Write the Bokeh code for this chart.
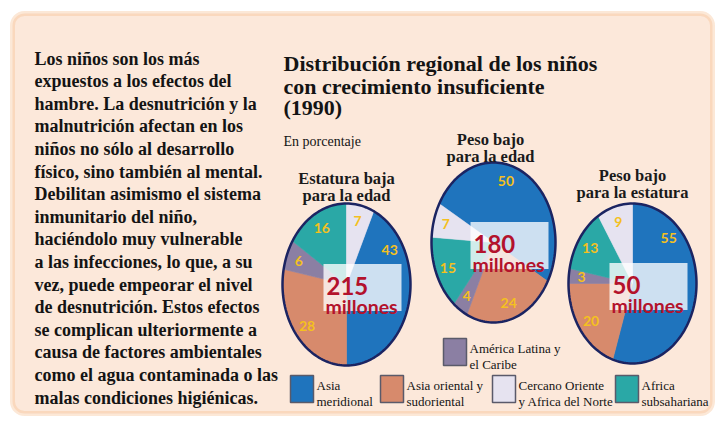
import math
import numpy as np
from bokeh.plotting import figure
from bokeh.models import Range1d, BoxAnnotation
from bokeh.core.properties import value
from bokeh.embed import file_html
from bokeh.resources import INLINE

# ---------------- data ----------------
pie_titles = [["Estatura baja", "para la edad"],
              ["Peso bajo", "para la edad"],
              ["Peso bajo", "para la estatura"]]
pie_totals = ["215", "180", "50"]
total_unit = "millones"

# shares (%) per region, one value per pie
asia_meridional = [43, 50, 55]
asia_oriental = [28, 24, 20]
america_latina = [6, 4, 3]
africa_subsahariana = [16, 15, 13]
cercano_oriente = [7, 7, 9]

title_lines = ["Distribución regional de los niños",
               "con crecimiento insuficiente",
               "(1990)"]
subtitle = "En porcentaje"

paragraph = [
    "Los niños son los más",
    "expuestos a los efectos del",
    "hambre. La desnutrición y la",
    "malnutrición afectan en los",
    "niños no sólo al desarrollo",
    "físico, sino también al mental.",
    "Debilitan asimismo el sistema",
    "inmunitario del niño,",
    "haciéndolo muy vulnerable",
    "a las infecciones, lo que, a su",
    "vez, puede empeorar el nivel",
    "de desnutrición. Estos efectos",
    "se complican ulteriormente a",
    "causa de factores ambientales",
    "como el agua contaminada o las",
    "malas condiciones higiénicas.",
]

legend_names = [["Asia", "meridional"],
                ["Asia oriental y", "sudoriental"],
                ["América Latina y", "el Caribe"],
                ["Africa", "subsahariana"],
                ["Cercano Oriente", "y Africa del Norte"]]

# ---------------- styles / layout ----------------
colors = ["#1f74bd", "#d78a6c", "#8b7fa3", "#2aa8a6", "#e6e3f0"]
series = [asia_meridional, asia_oriental, america_latina, africa_subsahariana, cercano_oriente]

pie_center = [(346, 284), (493, 242), (632, 283)]
pie_radius = [(64, 81), (62, 80), (64, 80)]
pie_start = [cercano_oriente[0] * 3.6, -61.0, 0.0]  # where the first slice starts (deg, clockwise from top)
title_x = [346, 490, 632]
title_base = [178, 139, 175]

SERIF = "Liberation Serif"
SANS = "Lato"

W, H = 719, 433
p = figure(width=W, height=H, x_range=Range1d(0, W), y_range=Range1d(H, 0),
           output_backend="svg", toolbar_location=None, min_border=0)
p.axis.visible = False
p.grid.visible = False
p.outline_line_color = None
p.background_fill_color = "white"
p.border_fill_color = "white"

bg = BoxAnnotation(left=12, right=712, top=13, bottom=413, fill_color="#fce8da", fill_alpha=1.0,
                   line_color="#f6b27c", line_width=5, border_radius=12, level="underlay")
p.add_layout(bg)


def pt(cx, cy, rx, ry, deg):
    a = math.radians(deg)
    return cx + rx * math.sin(a), cy - ry * math.cos(a)


for i in range(3):
    cx, cy = pie_center[i]
    rx, ry = pie_radius[i]
    a = pie_start[i]
    xs_all, ys_all, fills = [], [], []
    lab_x, lab_y, lab_t = [], [], []
    for s, col in zip(series, colors):
        share = s[i]
        a0, a1 = a, a + share * 3.6
        n = max(3, int(abs(a1 - a0) / 2) + 2)
        angs = np.linspace(a0, a1, n)
        xs = [cx] + [pt(cx, cy, rx, ry, g)[0] for g in angs] + [cx]
        ys = [cy] + [pt(cx, cy, rx, ry, g)[1] for g in angs] + [cy]
        xs_all.append(xs)
        ys_all.append(ys)
        fills.append(col)
        if share > 40:
            lo, hi = max(a0, -90), min(a1, 90)
            mid = (lo + hi) / 2
        else:
            mid = (a0 + a1) / 2
        lx, ly = pt(cx, cy, rx * 0.8, ry * 0.8, mid)
        lab_x.append(lx)
        lab_y.append(ly)
        lab_t.append(str(share))
        a = a1
    p.patches(xs_all, ys_all, fill_color=fills, line_color=fills, line_width=0.6)
    # outline
    angs = np.linspace(0, 360, 181)
    ox = [pt(cx, cy, rx, ry, g)[0] for g in angs]
    oy = [pt(cx, cy, rx, ry, g)[1] for g in angs]
    p.line(ox, oy, line_color="#1b2462", line_width=2.5)
    p.text(lab_x, lab_y, text=lab_t, text_color="#f4c020", text_font=value(SANS),
           text_font_style="bold", text_font_size="14px", text_align="center", text_baseline="middle")
    # total box
    bx, by = cx + 16, cy + 3
    p.quad(left=[bx - 39], right=[bx + 39], top=[by - 23.5], bottom=[by + 23.5],
           fill_color="#ffffff", fill_alpha=0.78, line_color=None)
    p.text([bx - 36], [by - 2], text=[pie_totals[i]], text_color="#b3122c", text_font=value(SANS),
           text_font_style="bold", text_font_size="24px", text_align="left", text_baseline="alphabetic")
    p.text([bx - 37], [by + 19], text=[total_unit], text_color="#b3122c", text_font=value(SANS),
           text_font_style="bold", text_font_size="19.5px", text_align="left", text_baseline="alphabetic")
    # pie title
    p.text([title_x[i]] * 2, [title_base[i], title_base[i] + 17], text=pie_titles[i], text_color="#1a1a1a",
           text_font=value(SERIF), text_font_style="bold", text_font_size="16.5px",
           text_align="center", text_baseline="alphabetic")

# paragraph
p.text([34] * len(paragraph), [58 + 22.6 * k for k in range(len(paragraph))], text=paragraph,
       text_color="#141414", text_font=value(SERIF), text_font_style="bold", text_font_size="18px",
       text_align="left", text_baseline="alphabetic")

# title
p.text([283] * 3, [63, 85.5, 107], text=title_lines, text_color="#141414", text_font=value(SERIF),
       text_font_style="bold", text_font_size="22px", text_align="left", text_baseline="alphabetic")
p.text([283], [141], text=[subtitle], text_color="#141414", text_font=value(SERIF),
       text_font_size="14px", text_align="left", text_baseline="alphabetic")

# legend
leg_x = [290, 380, 443, 615, 492]
leg_y = [375, 375, 338, 375, 375]
for k in range(5):
    x0, y0 = leg_x[k], leg_y[k]
    p.quad(left=[x0], right=[x0 + 23], top=[y0], bottom=[y0 + 27], fill_color=colors[k],
           line_color="#5a5a6a", line_width=1.5)
    p.text([x0 + 26, x0 + 26], [y0 + 10, y0 + 26], text=legend_names[k], text_color="#141414",
           text_font=value(SERIF), text_font_size="13px", text_align="left", text_baseline="alphabetic")

open("out.html", "w").write(file_html(p, INLINE))
